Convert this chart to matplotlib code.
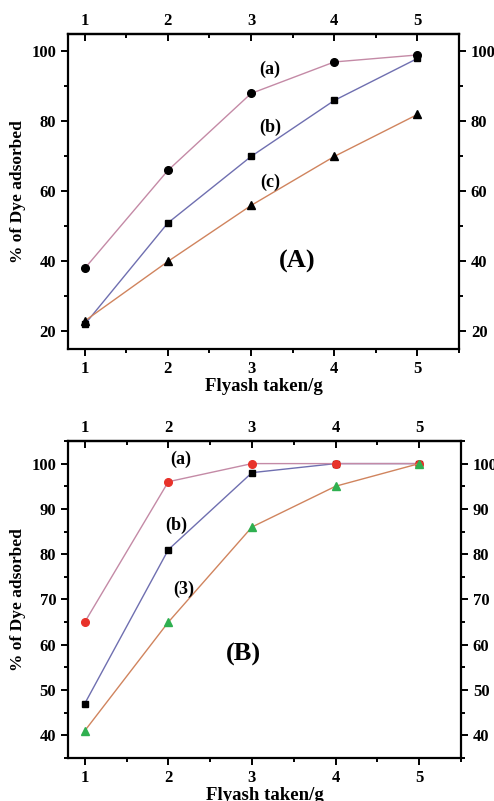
import numpy as np
import matplotlib
matplotlib.use('Agg')
from matplotlib import pyplot as plt
from matplotlib.ticker import MultipleLocator

plt.rcParams['font.family'] = 'Liberation Serif'
plt.rcParams['font.weight'] = 'bold'
plt.rcParams['axes.linewidth'] = 1.6

# data
flyash = [1, 2, 3, 4, 5]
# panel A
A_a = [38, 66, 88, 97, 99]
A_b = [22, 51, 70, 86, 98]
A_c = [23, 40, 56, 70, 82]
# panel B
B_a = [65, 96, 100, 100, 100]
B_b = [47, 81, 98, 100, 100]
B_3 = [41, 65, 86, 95, 100]

col_a = '#c48aa6'
col_b = '#6f6fb0'
col_c = '#d0845e'

fig = plt.figure(figsize=(4.94, 8.01), dpi=100)
axA = fig.add_axes([0.1377, 0.5643, 0.7915, 0.3933])
axB = fig.add_axes([0.1377, 0.0537, 0.7955, 0.3958])

def style(ax, ylim, ymajor, yminor):
    ax.set_xlim(0.8, 5.5)
    ax.set_ylim(*ylim)
    ax.xaxis.set_major_locator(MultipleLocator(1))
    ax.xaxis.set_minor_locator(MultipleLocator(0.5))
    ax.yaxis.set_major_locator(MultipleLocator(ymajor))
    ax.yaxis.set_minor_locator(MultipleLocator(yminor))
    ax.tick_params(which='both', direction='out', left=True, right=True,
                   labelright=True, labelsize=12, width=1.4)
    ax.tick_params(which='major', length=5)
    ax.tick_params(which='minor', length=3)
    top = ax.secondary_xaxis('top')
    top.xaxis.set_major_locator(MultipleLocator(1))
    top.xaxis.set_minor_locator(MultipleLocator(0.5))
    top.tick_params(which='both', direction='in', labelsize=12, width=1.4)
    top.tick_params(which='major', length=5)
    top.tick_params(which='minor', length=3)
    ax.set_xlabel('Flyash taken/g', fontsize=13.5, fontweight='bold', labelpad=1)
    ax.set_ylabel('% of Dye adsorbed', fontsize=12.5, fontweight='bold', labelpad=4)

# panel A
axA.plot(flyash, A_a, color=col_a, lw=1, marker='o', ms=5.5, mfc='black', mec='black')
axA.plot(flyash, A_b, color=col_b, lw=1, marker='s', ms=5, mfc='black', mec='black')
axA.plot(flyash, A_c, color=col_c, lw=1, marker='^', ms=5.5, mfc='black', mec='black')
style(axA, (15, 105), 20, 10)
axA.text(3.23, 95, '(a)', fontsize=13, ha='center', va='center')
axA.text(3.23, 78.3, '(b)', fontsize=13, ha='center', va='center')
axA.text(3.23, 62.6, '(c)', fontsize=13, ha='center', va='center')
axA.text(3.55, 40, '(A)', fontsize=19, ha='center', va='center')

# panel B
axB.plot(flyash, B_b, color=col_b, lw=1, marker='s', ms=5, mfc='black', mec='black')
axB.plot(flyash, B_a, color=col_a, lw=1, marker='o', ms=5.5, mfc='#e8322a', mec='#e8322a')
axB.plot(flyash, B_3, color=col_c, lw=1, marker='^', ms=6, mfc='#2fb050', mec='#2fb050')
style(axB, (35, 105), 10, 5)
axB.text(2.15, 101, '(a)', fontsize=13, ha='center', va='center')
axB.text(2.1, 86.4, '(b)', fontsize=13, ha='center', va='center')
axB.text(2.19, 72.2, '(3)', fontsize=13, ha='center', va='center')
axB.text(2.9, 57.8, '(B)', fontsize=19, ha='center', va='center')

fig.savefig('out.png', dpi=100)
